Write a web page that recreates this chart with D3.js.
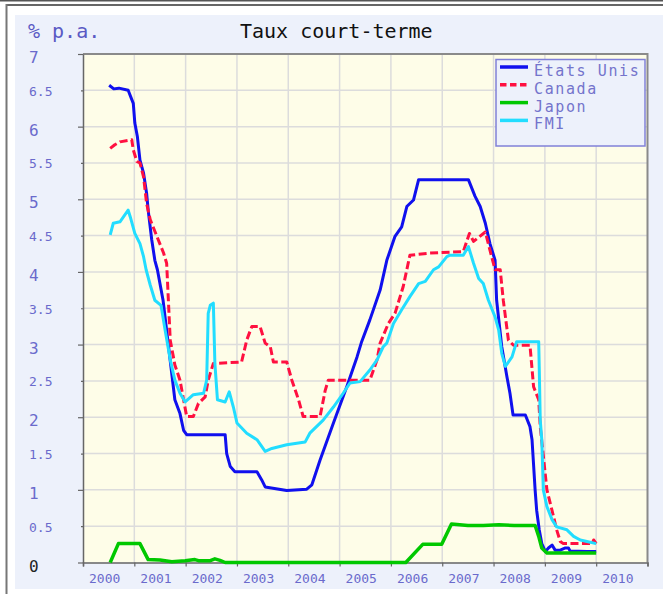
<!DOCTYPE html>
<html>
<head>
<meta charset="utf-8">
<script src="https://cdn.jsdelivr.net/npm/d3@7"></script>
<style>
  html, body { margin: 0; padding: 0; background: #fff; }
  svg { display: block; }
</style>
</head>
<body>
<svg id="chart" width="663" height="594"></svg>
<script>
// Short-term interest rates, % per annum, by decimal year
const seriesNames = ["États Unis", "Canada", "Japon", "FMI"];
const seriesColors = ["#1010ee", "#ff1040", "#00c800", "#22ddff"];

const etatsUnis = [
  [2000.51,6.57],[2000.60,6.52],[2000.70,6.53],[2000.88,6.50],[2000.98,6.32],[2001.01,6.05],
  [2001.06,5.86],[2001.11,5.54],[2001.18,5.36],[2001.24,5.08],[2001.27,4.85],[2001.34,4.44],
  [2001.40,4.16],[2001.45,4.03],[2001.56,3.61],[2001.79,2.24],[2001.89,2.05],[2001.96,1.82],
  [2002.02,1.76],[2002.77,1.76],[2002.80,1.50],[2002.87,1.32],[2002.96,1.25],[2003.39,1.25],
  [2003.48,1.14],[2003.55,1.04],[2003.97,0.99],[2004.36,1.01],[2004.46,1.07],[2004.62,1.41],
  [2004.88,1.92],[2005.14,2.42],[2005.34,2.83],[2005.43,3.04],[2005.59,3.34],[2005.79,3.75],
  [2005.92,4.16],[2006.08,4.49],[2006.21,4.62],[2006.31,4.90],[2006.44,4.99],[2006.54,5.27],
  [2007.51,5.27],[2007.64,5.04],[2007.74,4.90],[2007.84,4.67],[2007.93,4.39],[2008.03,4.16],
  [2008.06,3.61],[2008.16,2.97],[2008.26,2.56],[2008.32,2.33],[2008.38,2.03],[2008.62,2.03],
  [2008.71,1.87],[2008.75,1.69],[2008.81,1.00],[2008.84,0.72],[2008.89,0.45],[2008.94,0.26],
  [2009.01,0.15],[2009.07,0.20],[2009.14,0.24],[2009.20,0.17],[2009.30,0.17],[2009.40,0.20],
  [2009.46,0.20],[2009.49,0.16],[2009.82,0.15],[2010.00,0.15]
];

const canada = [
  [2000.53,5.70],[2000.62,5.75],[2000.72,5.79],[2000.95,5.82],[2000.98,5.68],[2001.05,5.52],
  [2001.11,5.50],[2001.18,5.31],[2001.24,4.94],[2001.31,4.72],[2001.44,4.49],[2001.57,4.26],
  [2001.63,4.12],[2001.70,3.06],[2001.79,2.72],[2001.89,2.51],[2002.02,2.01],[2002.15,2.01],
  [2002.25,2.19],[2002.38,2.28],[2002.44,2.51],[2002.54,2.74],[2003.09,2.76],[2003.19,3.06],
  [2003.29,3.25],[2003.45,3.25],[2003.55,3.02],[2003.65,2.97],[2003.71,2.76],[2003.97,2.76],
  [2004.07,2.51],[2004.20,2.24],[2004.29,2.01],[2004.62,2.01],[2004.72,2.37],[2004.78,2.51],
  [2005.59,2.51],[2005.73,2.79],[2005.79,3.02],[2005.95,3.29],[2006.08,3.43],[2006.24,3.80],
  [2006.37,4.23],[2006.76,4.26],[2007.41,4.28],[2007.53,4.53],[2007.61,4.42],[2007.84,4.55],
  [2007.93,4.30],[2008.03,4.03],[2008.13,4.03],[2008.19,3.61],[2008.29,3.06],[2008.39,2.99],
  [2008.71,2.99],[2008.78,2.42],[2008.88,2.24],[2008.91,1.87],[2009.04,1.00],[2009.17,0.63],
  [2009.23,0.45],[2009.30,0.29],[2009.36,0.26],[2009.92,0.26],[2009.95,0.31],[2010.00,0.26]
];

const japon = [
  [2000.53,0.00],[2000.69,0.26],[2001.11,0.26],[2001.27,0.04],[2001.50,0.035],[2001.73,0.01],
  [2001.99,0.025],[2002.18,0.04],[2002.25,0.025],[2002.48,0.025],[2002.57,0.05],[2002.67,0.03],
  [2002.77,0.00],[2006.29,0.00],[2006.62,0.25],[2006.99,0.25],[2007.18,0.53],[2007.50,0.51],
  [2007.80,0.51],[2008.10,0.52],[2008.40,0.51],[2008.81,0.51],[2008.88,0.36],[2008.94,0.20],
  [2009.04,0.13],[2010.00,0.13]
];

const fmi = [
  [2000.53,4.51],[2000.59,4.67],[2000.72,4.69],[2000.88,4.85],[2000.92,4.76],[2001.01,4.53],
  [2001.11,4.39],[2001.18,4.21],[2001.23,4.03],[2001.31,3.82],[2001.40,3.61],[2001.52,3.54],
  [2001.60,3.20],[2001.70,2.79],[2001.79,2.51],[2001.89,2.33],[2001.99,2.21],[2002.15,2.31],
  [2002.35,2.33],[2002.41,2.51],[2002.44,3.43],[2002.48,3.54],[2002.54,3.57],[2002.57,2.74],
  [2002.62,2.24],[2002.77,2.21],[2002.85,2.35],[2002.93,2.14],[2003.00,1.92],[2003.19,1.78],
  [2003.39,1.69],[2003.55,1.53],[2003.68,1.57],[2003.97,1.62],[2004.33,1.66],[2004.42,1.78],
  [2004.68,1.96],[2004.88,2.14],[2005.07,2.33],[2005.20,2.47],[2005.40,2.49],[2005.59,2.65],
  [2005.73,2.79],[2005.85,2.97],[2005.92,3.02],[2006.05,3.29],[2006.21,3.48],[2006.37,3.66],
  [2006.54,3.84],[2006.67,3.87],[2006.83,4.03],[2006.93,4.07],[2007.09,4.21],[2007.15,4.23],
  [2007.41,4.23],[2007.51,4.35],[2007.61,4.12],[2007.71,3.91],[2007.80,3.84],[2007.90,3.61],
  [2008.03,3.38],[2008.10,3.20],[2008.16,2.88],[2008.23,2.70],[2008.36,2.83],[2008.45,3.04],
  [2008.88,3.04],[2008.89,2.70],[2008.91,1.96],[2008.94,1.69],[2008.97,1.00],[2009.04,0.77],
  [2009.14,0.59],[2009.23,0.49],[2009.43,0.45],[2009.56,0.36],[2009.69,0.31],[2009.82,0.29],
  [2010.00,0.26]
];

const seriesData = [etatsUnis, canada, japon, fmi];
const yearLabels = ["2000","2001","2002","2003","2004","2005","2006","2007","2008","2009","2010"];
const yTickValues = [0,0.5,1,1.5,2,2.5,3,3.5,4,4.5,5,5.5,6,6.5,7];
const yTickLabels = ["0","0.5","1","1.5","2","2.5","3","3.5","4","4.5","5","5.5","6","6.5","7"];

const W = 663, H = 594;
const plot = { left: 83, right: 647.5, top: 54, bottom: 562.5 };
const mono = "'DejaVu Sans Mono', 'Liberation Mono', monospace";
const labelBlue = "#6a6acc";

const svg = d3.select("#chart");

// Outer frame and panel
svg.append("rect").attr("x", 0).attr("y", 0).attr("width", W).attr("height", H).attr("fill", "#fff");
svg.append("line").attr("x1", 0).attr("x2", W).attr("y1", 0.75).attr("y2", 0.75)
  .attr("stroke", "#555").attr("stroke-width", 1.5);
svg.append("rect").attr("x", 15).attr("y", 15).attr("width", W - 15).attr("height", 574)
  .attr("fill", "#edf1fb");
svg.append("line").attr("x1", 6).attr("x2", W).attr("y1", 5).attr("y2", 5)
  .attr("stroke", "#666").attr("stroke-width", 2);
svg.append("line").attr("x1", 6.5).attr("x2", 6.5).attr("y1", 4).attr("y2", H)
  .attr("stroke", "#777").attr("stroke-width", 2);

const x = d3.scaleLinear().domain([2000, 2011]).range([plot.left, plot.right]);
const y = d3.scaleLinear().domain([0, 7]).range([plot.bottom, plot.top]);

// Plot background
svg.append("rect").attr("x", plot.left).attr("y", plot.top)
  .attr("width", plot.right - plot.left).attr("height", plot.bottom - plot.top)
  .attr("fill", "#fefde8");

// Grid
const grid = svg.append("g").attr("stroke", "#dcdcdc").attr("stroke-width", 1.5);
grid.selectAll("line.h").data(yTickValues.slice(1, -1)).join("line")
  .attr("x1", plot.left).attr("x2", plot.right)
  .attr("y1", d => y(d)).attr("y2", d => y(d));
grid.selectAll("line.v").data(d3.range(2001, 2011)).join("line")
  .attr("y1", plot.top).attr("y2", plot.bottom)
  .attr("x1", d => x(d)).attr("x2", d => x(d));

// Plot border (top, right)
svg.append("path")
  .attr("d", `M${plot.left},${plot.top}H${plot.right}V${plot.bottom}`)
  .attr("fill", "none").attr("stroke", "#8a8a8a").attr("stroke-width", 2);

// Axes
const xAxis = d3.axisBottom(x).tickValues(d3.range(2000, 2012)).tickSize(4).tickFormat("");
const gx = svg.append("g").attr("transform", `translate(0,${plot.bottom})`).call(xAxis);
gx.select(".domain").attr("stroke", "#666").attr("stroke-width", 1.5);
gx.selectAll(".tick line").attr("stroke", "#666").attr("stroke-width", 1.2);

const yAxis = d3.axisLeft(y).tickValues(yTickValues).tickSizeOuter(0).tickFormat("")
  .tickSizeInner(4);
const gy = svg.append("g").attr("transform", `translate(${plot.left},0)`).call(yAxis);
gy.select(".domain").attr("stroke", "#666").attr("stroke-width", 1.5);
gy.selectAll(".tick line")
  .attr("x2", d => Number.isInteger(d) ? -5 : -2)
  .attr("stroke", "#666").attr("stroke-width", 1.2);

// Y tick labels: whole numbers larger than halves
svg.append("g").selectAll("text").data(yTickValues).join("text")
  .attr("x", 29)
  .attr("y", d => y(d) + (Number.isInteger(d) ? 9 : 5.5))
  .attr("font-family", mono)
  .attr("font-size", d => Number.isInteger(d) ? 16 : 13)
  .attr("fill", d => d === 0 ? "#222" : labelBlue)
  .text((d, i) => yTickLabels[i]);

// Year labels, placed inside each year interval
svg.append("g").selectAll("text").data(yearLabels).join("text")
  .attr("x", (d, i) => x(2000 + i) + 6)
  .attr("y", 583)
  .attr("font-family", mono).attr("font-size", 13)
  .attr("fill", labelBlue)
  .text(d => d);

// Titles
svg.append("text").attr("x", 28).attr("y", 38)
  .attr("font-family", mono).attr("font-size", 20).attr("fill", "#5a5ac4")
  .text("% p.a.");
svg.append("text").attr("x", 240).attr("y", 38)
  .attr("font-family", mono).attr("font-size", 20).attr("fill", "#111")
  .text("Taux court-terme");

// Series lines
const line = d3.line().x(d => x(d[0])).y(d => y(d[1]));
const lineStyles = [
  { width: 3, dash: null },
  { width: 3, dash: "8,3.5" },
  { width: 3.5, dash: null },
  { width: 3, dash: null }
];
svg.append("g").selectAll("path").data(seriesData).join("path")
  .attr("d", line)
  .attr("fill", "none")
  .attr("stroke", (d, i) => seriesColors[i])
  .attr("stroke-width", (d, i) => lineStyles[i].width)
  .attr("stroke-dasharray", (d, i) => lineStyles[i].dash)
  .attr("stroke-linejoin", "round");

// Legend
const legend = svg.append("g");
legend.append("rect").attr("x", 496).attr("y", 59.5).attr("width", 149).attr("height", 86.5)
  .attr("fill", "#edf1fb").attr("stroke", "#8080d8").attr("stroke-width", 1.5);
const items = legend.selectAll("g.item").data(seriesNames).join("g")
  .attr("transform", (d, i) => `translate(0,${67 + i * 17.8})`);
items.append("line").attr("x1", 500).attr("x2", 528).attr("y1", 0).attr("y2", 0)
  .attr("stroke", (d, i) => seriesColors[i])
  .attr("stroke-width", 3.5)
  .attr("stroke-dasharray", (d, i) => i === 1 ? "6.5,3.5" : null);
items.append("text").attr("x", 534).attr("y", 9)
  .attr("font-family", mono).attr("font-size", 15)
  .attr("letter-spacing", 1.6)
  .attr("fill", "#7474cc")
  .text(d => d);
</script>
</body>
</html>
